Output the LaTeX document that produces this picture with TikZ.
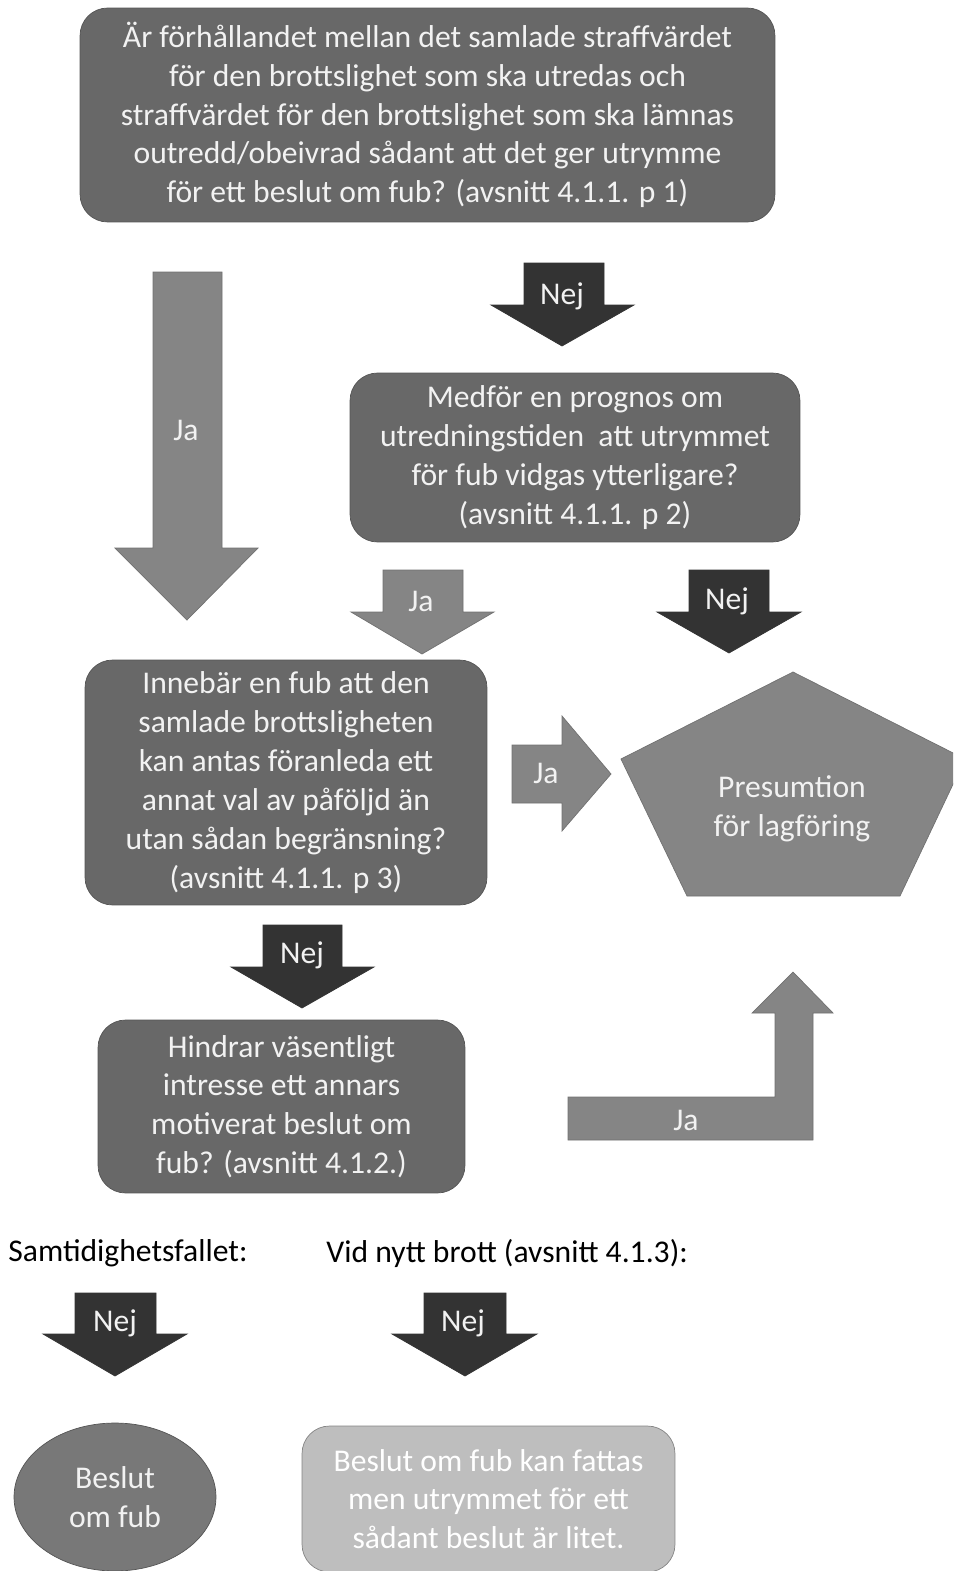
\documentclass[tikz,border=0pt]{standalone}
\usepackage{fontspec}
\setmainfont{Carlito}
\usetikzlibrary{shapes.geometric}

\definecolor{boxgra}{HTML}{686868}
\definecolor{boxkant}{HTML}{555555}
\definecolor{nejgra}{HTML}{333333}
\definecolor{jagra}{HTML}{858585}
\definecolor{ljusgra}{HTML}{BEBEBE}
\definecolor{vit}{HTML}{F2F2F2}

\tikzset{
	fraga/.style={draw=boxkant, fill=boxgra, rounded corners=0.55cm, text=vit, align=center, inner sep=0pt},
	nejpil/.style={fill=nejgra, draw=nejgra},
	japil/.style={fill=jagra, draw=jagra!85!black},
	piltext/.style={text=vit, inner sep=0pt},
}

\begin{document}
\begin{tikzpicture}[x=0.02cm, y=-0.02cm, font=\fontsize{18}{22.1}\selectfont]
		\useasboundingbox (0,0) rectangle (953,1571);
		\clip (0,0) rectangle (953,1571);

		% fragerutor
		\node[fraga, minimum width=13.9cm, minimum height=4.28cm] (fraga1) at (427.5,115)
			{Är förhållandet mellan det samlade straffvärdet\\för den brottslighet som ska utredas och\\straffvärdet för den brottslighet som ska lämnas\\outredd/obeivrad sådant att det ger utrymme\\för ett beslut om fub? (avsnitt 4.1.1. p 1)};
		\node[fraga, minimum width=9cm, minimum height=3.38cm] (fraga2) at (575,457.5)
			{Medför en prognos om\\utredningstiden\ \ att utrymmet\\för fub vidgas ytterligare?\\(avsnitt 4.1.1. p 2)};
		\node[fraga, minimum width=8.04cm, minimum height=4.9cm] (fraga3) at (286,782.5)
			{Innebär en fub att den\\samlade brottsligheten\\kan antas föranleda ett\\annat val av påföljd än\\utan sådan begränsning?\\(avsnitt 4.1.1. p 3)};
		\node[fraga, minimum width=7.34cm, minimum height=3.46cm] (fraga4) at (281.5,1106.5)
			{Hindrar väsentligt\\intresse ett annars\\motiverat beslut om\\fub? (avsnitt 4.1.2.)};

		% presumtion
		\draw[japil] (793,672) -- (965,759) -- (900,896) -- (687,896) -- (621,759) -- cycle;
		\node[piltext, align=center] (presumtion) at (792,809) {Presumtion\\för lagföring};

		% pilar
		\draw[japil] (153,272) -- (222,272) -- (222,548) -- (258,548) -- (187,620) -- (115,548) -- (153,548) -- cycle;
		\node[piltext] (ja1) at (186,430) {Ja};

		\draw[nejpil] (524,263) -- (604,263) -- (604,305) -- (634,305) -- (562,346) -- (491,305) -- (524,305) -- cycle;
		\node[piltext] (nej1) at (562,296) {Nej};

		\draw[japil] (383,570) -- (463,570) -- (463,612) -- (494,612) -- (422,654) -- (351,612) -- (383,612) -- cycle;
		\node[piltext] (ja2) at (421,601) {Ja};

		\draw[nejpil] (689,570) -- (769,570) -- (769,612) -- (801,612) -- (729,653) -- (657,612) -- (689,612) -- cycle;
		\node[piltext] (nej2) at (727,601) {Nej};

		\draw[japil] (512,745) -- (562,745) -- (562,716) -- (611,774) -- (562,831) -- (562,803) -- (512,803) -- cycle;
		\node[piltext] (ja3) at (546,773) {Ja};

		\draw[nejpil] (263,925) -- (342,925) -- (342,967) -- (374,967) -- (302,1008) -- (231,967) -- (263,967) -- cycle;
		\node[piltext] (nej3) at (302,955) {Nej};

		\draw[japil] (568,1097) -- (775,1097) -- (775,1013) -- (752,1013) -- (793,972) -- (833,1013) -- (813,1013) -- (813,1140) -- (568,1140) -- cycle;
		\node[piltext] (ja4) at (686,1120) {Ja};

		% nytt brott
		\node[anchor=west, inner sep=0pt] (samtidig) at (8,1253) {Samtidighetsfallet:};
		\node[anchor=west, inner sep=0pt] (nyttbrott) at (326,1253) {Vid nytt brott (avsnitt 4.1.3):};

		\draw[nejpil] (75,1293) -- (156,1293) -- (156,1334) -- (187,1334) -- (115,1376) -- (43,1334) -- (75,1334) -- cycle;
		\node[piltext] (nej4) at (115,1323) {Nej};

		\draw[nejpil] (424,1293) -- (506,1293) -- (506,1334) -- (537,1334) -- (465,1376) -- (392,1334) -- (424,1334) -- cycle;
		\node[piltext] (nej5) at (463,1323) {Nej};

		\node[ellipse, draw=boxkant, fill=jagra!90!black, text=vit, align=center, inner sep=0pt, minimum width=4.04cm, minimum height=2.96cm] (beslut) at (115,1497) {Beslut\\om fub};
		\node[fraga, draw=jagra, fill=ljusgra, text=white, minimum width=7.46cm, minimum height=2.92cm] (litet) at (488.5,1499)
			{Beslut om fub kan fattas\\men utrymmet för ett\\sådant beslut är litet.};
	\end{tikzpicture}
\end{document}
